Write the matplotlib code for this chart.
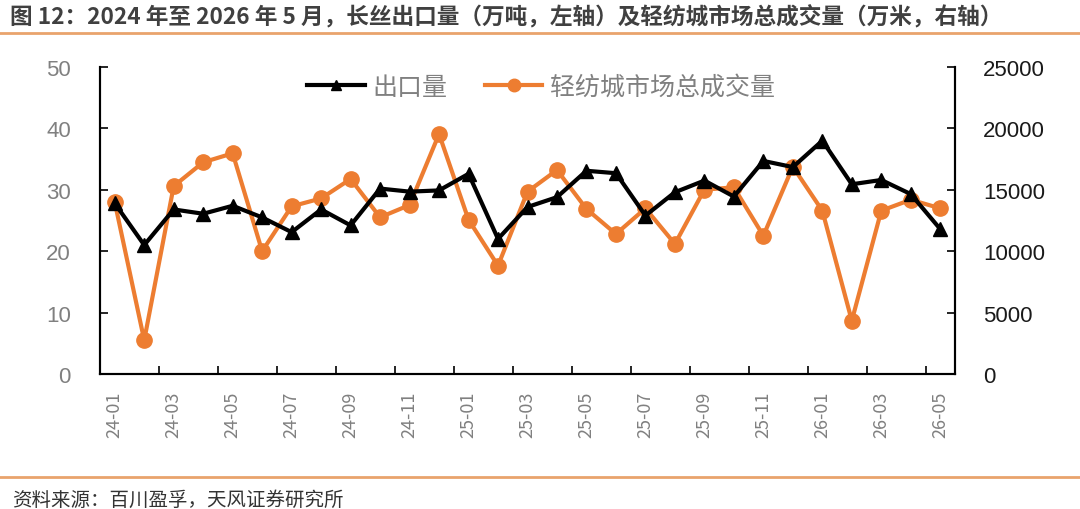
import numpy as np
import matplotlib.pyplot as plt
from matplotlib.lines import Line2D

plt.rcParams['font.family'] = ['Noto Sans CJK SC', 'DejaVu Sans']

months = ['24-01', '24-02', '24-03', '24-04', '24-05', '24-06', '24-07', '24-08',
          '24-09', '24-10', '24-11', '24-12', '25-01', '25-02', '25-03', '25-04',
          '25-05', '25-06', '25-07', '25-08', '25-09', '25-10', '25-11', '25-12',
          '26-01', '26-02', '26-03', '26-04', '26-05']

# 长丝出口量（万吨，左轴）
export_vol = [27.8, 21.0, 26.8, 26.1, 27.4, 25.5, 23.1, 26.8, 24.2, 30.2, 29.7, 29.9,
              32.6, 22.0, 27.2, 28.8, 33.1, 32.7, 25.8, 29.6, 31.5, 28.9, 34.7, 33.7,
              38.0, 30.9, 31.6, 29.3, 23.6]

# 轻纺城市场总成交量（万米，右轴）
market_vol = [14000, 2750, 15300, 17240, 17970, 10000, 13650, 14300, 15880, 12760,
              13760, 19540, 12560, 8820, 14850, 16610, 13440, 11400, 13490, 10590,
              15010, 15200, 11260, 16880, 13300, 4340, 13300, 14190, 13490]

orange = '#ED7D31'
gray = '#808080'

fig = plt.figure(figsize=(10.8, 5.1), dpi=100)
ax = fig.add_axes([100 / 1080, 1 - 375 / 510, 855 / 1080, 307 / 510])
ax2 = ax.twinx()

x = np.arange(len(months))
ax.plot(x, export_vol, color='black', lw=3, marker='^', markersize=10, zorder=3)
ax2.plot(x, market_vol, color=orange, lw=3, marker='o', markersize=11, zorder=2)
ax.set_zorder(ax2.get_zorder() + 1)
ax.patch.set_visible(False)

ax.set_xlim(-0.5, len(months) - 0.5)
ax.set_ylim(0, 50)
ax2.set_ylim(0, 25000)
ax.set_yticks(np.arange(0, 51, 10))
ax2.set_yticks(np.arange(0, 25001, 5000))

ax.set_xticks(x[::2])
ax.set_xticklabels(months[::2], rotation=90, color=gray, fontsize=13)
ax.set_xticks(np.arange(1.5, len(months) - 1, 2), minor=True)
ax.tick_params(axis='x', which='major', length=0, pad=12)
ax.tick_params(axis='x', which='minor', direction='in', length=6, width=1.2)
ax.tick_params(axis='y', direction='in', length=6, width=1.2, labelcolor=gray, pad=21)
ax2.tick_params(axis='y', direction='in', length=6, width=1.2, labelcolor='#1a1a1a', pad=20)
for lab in ax.get_yticklabels() + ax2.get_yticklabels():
    lab.set_family('Liberation Sans')
    lab.set_fontsize(16)

for a in (ax, ax2):
    a.spines['top'].set_visible(False)
    for s in ('left', 'right', 'bottom'):
        a.spines[s].set_linewidth(1.5)

handles = [Line2D([], [], color='black', lw=3, marker='^', markersize=7),
           Line2D([], [], color=orange, lw=3, marker='o', markersize=9)]
leg = ax.legend(handles, ['出口量', '轻纺城市场总成交量'], loc='center', ncol=2,
                bbox_to_anchor=(0.516, 0.935), frameon=False, fontsize=18,
                handlelength=2.3, columnspacing=1.5, handletextpad=0.3)
for t in leg.get_texts():
    t.set_color(gray)
    t.set_fontweight('light')

fig.text(10 / 1080, 1 - 18 / 510,
         '图 12：2024 年至 2026 年 5 月，长丝出口量（万吨，左轴）及轻纺城市场总成交量（万米，右轴）',
         fontsize=16.3, fontweight='bold', color='#404040', va='center', ha='left')
fig.add_artist(Line2D([0, 1], [1 - 34 / 510] * 2, color='#E9A36D', lw=2))
fig.add_artist(Line2D([0, 1], [1 - 478 / 510] * 2, color='#E9A36D', lw=2))
fig.text(12 / 1080, 1 - 500 / 510, '资料来源：百川盈孚，天风证券研究所',
         fontsize=14, color='#333333', va='center', ha='left')

fig.savefig('out.png', dpi=100)
